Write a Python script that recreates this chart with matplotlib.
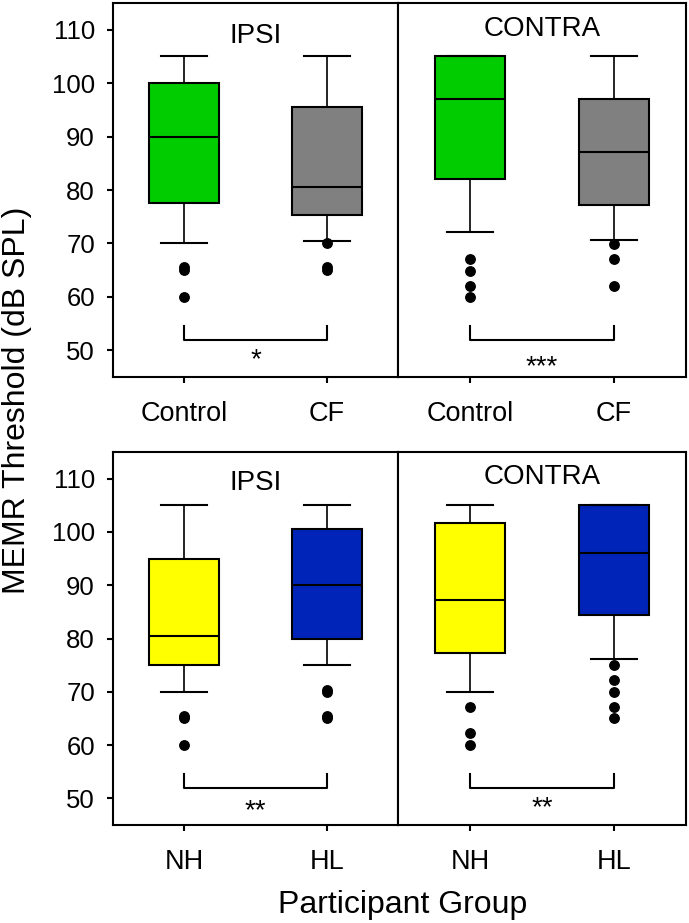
import matplotlib
matplotlib.use("Agg")
import matplotlib.pyplot as plt

plt.rcParams['font.family'] = ['Liberation Sans', 'DejaVu Sans']

# box stats: [whisker low, q1, median, q3, whisker high]
control_ipsi = [70, 77.5, 90, 100, 105]
cf_ipsi = [70.5, 75.3, 80.5, 95.5, 105]
control_contra = [72.2, 82.1, 97.1, 105, 105]
cf_contra = [70.6, 77.1, 87.2, 97.1, 105]
nh_ipsi = [70, 75, 80.5, 95, 105]
hl_ipsi = [75, 80, 90, 100.5, 105]
nh_contra = [70, 77.25, 87.2, 101.75, 105]
hl_contra = [76.1, 84.4, 96.1, 105, 105]

# outliers
control_ipsi_out = [65, 65.5, 60]
cf_ipsi_out = [70, 65, 65.5]
control_contra_out = [67.1, 64.9, 62.1, 60]
cf_contra_out = [69.9, 67.1, 62.1]
nh_ipsi_out = [65, 65.4, 60]
hl_ipsi_out = [70, 70.4, 65, 65.4]
nh_contra_out = [67.2, 62.2, 60]
hl_contra_out = [75, 72.2, 70, 67.2, 65]

top_groups = ["Control", "CF"]
bottom_groups = ["NH", "HL"]
top_colors = ["#00cc00", "#808080"]
bottom_colors = ["#ffff00", "#0024b8"]

stars_top = ["*", "***"]
stars_bottom = ["**", "**"]
yticks = [50, 60, 70, 80, 90, 100, 110]

W, H = 689, 923
fig = plt.figure(figsize=(W / 100, H / 100), dpi=100)


def make_stats(vals, out):
    return dict(whislo=vals[0], q1=vals[1], med=vals[2], q3=vals[3],
                whishi=vals[4], fliers=out)


def draw_panel(rect, boxes, outs, colors, labels, title, title_y, star, star_y, left):
    ax = fig.add_axes(rect)
    stats = [make_stats(b, o) for b, o in zip(boxes, outs)]
    bp = ax.bxp(stats, positions=[1, 2], widths=0.49, patch_artist=True,
                capwidths=0.32,
                boxprops=dict(edgecolor="black", linewidth=1.5),
                medianprops=dict(color="black", linewidth=1.5),
                whiskerprops=dict(color="black", linewidth=1.2),
                capprops=dict(color="black", linewidth=1.5),
                flierprops=dict(marker="o", markerfacecolor="black",
                                markeredgecolor="black", markersize=6.8))
    for patch, c in zip(bp["boxes"], colors):
        patch.set_facecolor(c)
    ax.set_xlim(0.5, 2.5)
    ax.set_ylim(45, 115)
    ax.set_xticks([1, 2])
    ax.set_xticklabels(labels, fontsize=19.5)
    ax.tick_params(axis="x", direction="out", length=4.5, width=1.5, pad=12.5)
    if left:
        ax.set_yticks(yticks)
        ax.tick_params(axis="y", direction="out", length=4.5, width=1.5,
                       pad=8.5, labelsize=18.5)
    else:
        ax.set_yticks([])
    for s in ax.spines.values():
        s.set_linewidth(1.5)
    ax.text(1.5, title_y, title, ha="center", va="baseline", fontsize=20)
    ax.plot([1, 1, 2, 2], [54.5, 52, 52, 54.5], color="black", lw=1.5)
    ax.text(1.5, star_y, star, ha="center", va="baseline", fontsize=20)
    return ax


def rect(x0, y0, x1, y1):
    return [x0 / W, 1 - y1 / H, (x1 - x0) / W, (y1 - y0) / H]


draw_panel(rect(113, 3, 398, 377), [control_ipsi, cf_ipsi],
           [control_ipsi_out, cf_ipsi_out], top_colors, top_groups,
           "IPSI", 107.6, stars_top[0], 46.9, True)
draw_panel(rect(398, 3, 686, 377), [control_contra, cf_contra],
           [control_contra_out, cf_contra_out], top_colors, top_groups,
           "CONTRA", 108.9, stars_top[1], 45.6, False)
draw_panel(rect(113, 452, 398, 825), [nh_ipsi, hl_ipsi],
           [nh_ipsi_out, hl_ipsi_out], bottom_colors, bottom_groups,
           "IPSI", 107.8, stars_bottom[0], 46.3, True)
draw_panel(rect(398, 452, 686, 825), [nh_contra, hl_contra],
           [nh_contra_out, hl_contra_out], bottom_colors, bottom_groups,
           "CONTRA", 109.0, stars_bottom[1], 46.9, False)

fig.text(0.024, 1 - 400 / H, "MEMR Threshold (dB SPL)", rotation=90,
         ha="center", va="center", fontsize=23)
fig.text(403 / W, 1 - 905 / H, "Participant Group", ha="center",
         va="center", fontsize=23)

fig.savefig("out.png", dpi=100)
